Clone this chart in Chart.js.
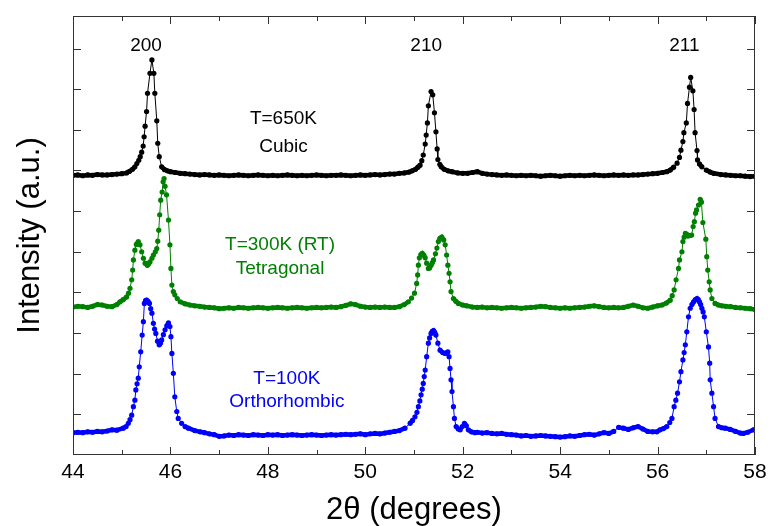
<!DOCTYPE html>
<html>
<head>
<meta charset="utf-8">
<script src="https://cdn.jsdelivr.net/npm/chart.js@4/dist/chart.umd.min.js"></script>
<style>
  html, body { margin: 0; padding: 0; background: #fff; overflow: hidden; }
  canvas { display: block; }
</style>
</head>
<body>
<canvas id="xrd" width="771" height="526"></canvas>
<script>
// Данные: [2theta, интенсивность со сдвигом]
// T=650K, кубическая фаза
const cubic = [
  [44.0,6.88],[44.1,6.89],[44.2,6.87],[44.3,6.89],[44.4,6.88],[44.5,6.90],[44.6,6.89],[44.7,6.89],[44.8,6.90],[44.9,6.91],[45.0,6.92],[45.1,6.94],
  [45.16,6.98],[45.22,7.03],[45.27,7.09],[45.31,7.17],[45.35,7.25],[45.38,7.34],[45.41,7.45],[45.44,7.60],[45.46,7.83],[45.48,8.09],[45.51,8.45],
  [45.53,8.90],[45.58,9.39],[45.62,9.72],[45.66,9.39],[45.68,8.90],[45.72,8.22],[45.74,7.67],[45.77,7.34],[45.82,7.09],[45.88,7.02],[45.94,6.99],
  [46.0,6.97],[46.1,6.95],[46.2,6.93],
  [46.3,6.92],[46.4,6.91],[46.5,6.90],[46.6,6.89],[46.7,6.90],[46.8,6.89],[46.9,6.88],[47.0,6.89],[47.1,6.88],[47.2,6.87],[47.3,6.88],[47.4,6.89],
  [47.5,6.88],[47.6,6.87],[47.7,6.88],[47.8,6.89],[47.9,6.88],[48.0,6.87],[48.1,6.88],[48.2,6.87],[48.3,6.88],[48.4,6.89],[48.5,6.88],[48.6,6.87],
  [48.7,6.88],[48.8,6.87],[48.9,6.88],[49.0,6.89],[49.1,6.88],[49.2,6.87],[49.3,6.88],[49.4,6.88],[49.5,6.89],[49.6,6.88],[49.7,6.87],[49.8,6.88],
  [49.9,6.89],[50.0,6.88],[50.1,6.89],[50.2,6.90],[50.3,6.89],[50.4,6.90],[50.5,6.91],[50.6,6.91],[50.7,6.93],[50.8,6.94],
  [50.9,6.96],[50.96,6.99],[51.03,7.03],[51.08,7.08],[51.125,7.13],[51.16,7.24],[51.19,7.38],[51.23,7.65],[51.25,7.87],[51.275,8.17],[51.295,8.59],
  [51.35,8.94],[51.385,8.86],[51.42,8.42],[51.45,7.95],[51.475,7.53],[51.49,7.27],[51.53,7.15],[51.56,7.09],[51.62,7.03],[51.70,6.99],[51.78,6.97],
  [51.9,6.94],[52.0,6.93],[52.1,6.93],[52.2,6.95],[52.3,6.97],[52.4,6.93],[52.5,6.91],[52.6,6.90],[52.7,6.89],[52.8,6.88],[52.9,6.89],[53.0,6.88],
  [53.1,6.87],[53.2,6.88],[53.3,6.87],[53.4,6.88],[53.5,6.87],[53.6,6.86],[53.7,6.87],[53.8,6.88],[53.9,6.87],[54.0,6.86],[54.1,6.87],[54.2,6.88],
  [54.3,6.87],[54.4,6.88],[54.5,6.87],[54.6,6.88],[54.7,6.89],[54.8,6.88],[54.9,6.87],[55.0,6.88],[55.1,6.89],[55.2,6.88],[55.3,6.89],[55.4,6.88],
  [55.5,6.89],[55.6,6.89],[55.7,6.90],[55.8,6.91],[55.9,6.92],[56.0,6.93],[56.1,6.95],
  [56.19,6.97],[56.26,7.01],[56.33,7.08],[56.40,7.18],[56.45,7.32],[56.48,7.50],[56.52,7.71],[56.54,7.93],[56.59,8.17],[56.615,8.65],[56.655,9.05],
  [56.68,9.29],[56.725,8.96],[56.75,8.50],[56.77,7.93],[56.81,7.49],[56.82,7.26],[56.86,7.16],[56.91,7.09],[57.0,7.01],[57.08,6.96],[57.15,6.93],
  [57.3,6.90],[57.4,6.89],[57.5,6.88],[57.6,6.87],[57.7,6.87],[57.8,6.86],[57.9,6.85],[58.0,6.86]
]

// T=300K (RT), тетрагональная фаза
const tetragonal = [
  [44.0,3.64],[44.1,3.66],[44.2,3.65],[44.3,3.63],[44.4,3.66],[44.5,3.70],[44.6,3.69],[44.7,3.66],[44.8,3.65],[44.9,3.70],
  [44.965,3.77],[45.03,3.82],[45.10,3.89],[45.14,3.98],[45.17,4.10],[45.205,4.31],[45.225,4.55],[45.24,4.80],[45.27,5.04],[45.30,5.18],[45.34,5.25],
  [45.375,5.17],[45.41,5.00],[45.445,4.84],[45.48,4.72],[45.525,4.67],[45.55,4.70],[45.58,4.75],[45.62,4.84],[45.65,4.92],[45.69,5.00],[45.72,5.08],
  [45.74,5.26],[45.76,5.53],[45.78,5.91],[45.80,6.27],[45.83,6.47],[45.85,6.72],[45.87,6.80],[45.89,6.61],[45.92,6.40],[45.96,5.78],[45.99,5.17],
  [46.01,4.59],[46.03,4.18],[46.06,4.02],[46.09,3.94],[46.14,3.85],[46.20,3.77],[46.3,3.72],[46.4,3.69],
  [46.5,3.67],[46.6,3.66],[46.7,3.64],[46.8,3.63],[46.9,3.62],[47.0,3.60],[47.1,3.61],[47.2,3.62],[47.3,3.61],[47.4,3.63],[47.5,3.62],[47.6,3.61],
  [47.7,3.62],[47.8,3.63],[47.9,3.62],[48.0,3.61],[48.1,3.62],[48.2,3.63],[48.3,3.62],[48.4,3.61],[48.5,3.62],[48.6,3.63],[48.7,3.62],[48.8,3.61],
  [48.9,3.62],[49.0,3.63],[49.1,3.62],[49.2,3.63],[49.3,3.64],[49.4,3.63],[49.5,3.65],[49.6,3.68],[49.7,3.72],[49.8,3.70],[49.9,3.66],[50.0,3.64],
  [50.1,3.63],[50.2,3.64],[50.3,3.63],[50.4,3.64],[50.5,3.63],[50.6,3.63],[50.7,3.65],[50.8,3.70],
  [50.885,3.77],[50.95,3.86],[51.01,3.98],[51.055,4.22],[51.075,4.43],[51.09,4.67],[51.11,4.85],[51.14,4.93],[51.17,4.96],[51.20,4.92],[51.23,4.85],
  [51.26,4.72],[51.295,4.59],[51.32,4.60],[51.35,4.67],[51.375,4.73],[51.40,4.80],[51.44,4.95],[51.47,5.09],[51.50,5.25],[51.53,5.33],[51.57,5.36],
  [51.61,5.29],[51.64,5.17],[51.67,4.92],[51.695,4.67],[51.72,4.47],[51.74,4.26],[51.76,4.02],[51.81,3.85],[51.86,3.78],[51.91,3.73],[52.0,3.69],
  [52.08,3.67],[52.2,3.64],[52.3,3.63],[52.4,3.64],[52.5,3.62],[52.6,3.63],[52.7,3.62],[52.8,3.61],[52.9,3.62],[53.0,3.63],[53.1,3.62],[53.2,3.61],
  [53.3,3.62],[53.4,3.63],[53.5,3.64],[53.6,3.66],[53.7,3.65],[53.8,3.63],[53.9,3.62],[54.0,3.61],[54.1,3.62],[54.2,3.61],[54.3,3.62],[54.4,3.63],
  [54.5,3.64],[54.6,3.66],[54.7,3.67],[54.8,3.65],[54.9,3.63],[55.0,3.62],[55.1,3.63],[55.2,3.62],[55.3,3.63],[55.4,3.66],[55.5,3.69],[55.6,3.66],
  [55.7,3.62],[55.8,3.61],[55.9,3.64],[56.0,3.67],
  [56.09,3.69],[56.18,3.74],[56.26,3.81],[56.30,3.92],[56.34,4.06],[56.38,4.31],[56.43,4.59],[56.45,4.80],[56.50,5.00],[56.52,5.25],[56.545,5.36],
  [56.57,5.45],[56.60,5.43],[56.63,5.39],[56.665,5.40],[56.70,5.41],[56.73,5.62],[56.755,5.74],[56.78,5.95],[56.80,6.03],[56.84,6.15],[56.875,6.29],
  [56.90,6.22],[56.93,5.72],[56.99,5.31],[57.01,4.88],[57.03,4.55],[57.06,4.26],[57.08,4.06],[57.115,3.85],[57.18,3.73],[57.25,3.69],[57.32,3.67],
  [57.4,3.66],[57.5,3.65],[57.6,3.63],[57.7,3.62],[57.8,3.61],[57.9,3.60],[58.0,3.58]
]

// T=100K, ромбическая фаза
const orthorhombic = [
  [44.0,0.55],[44.1,0.56],[44.2,0.55],[44.3,0.57],[44.4,0.56],[44.5,0.58],[44.6,0.57],[44.7,0.59],[44.8,0.62],[44.9,0.61],
  [45.03,0.66],[45.09,0.70],[45.135,0.78],[45.17,0.87],[45.205,0.98],[45.24,1.19],[45.27,1.35],[45.29,1.60],[45.315,1.75],[45.34,1.89],[45.36,2.17],
  [45.39,2.54],[45.42,2.95],[45.445,3.28],[45.465,3.73],[45.49,3.80],[45.51,3.81],[45.54,3.78],[45.57,3.73],[45.595,3.60],[45.62,3.49],[45.65,3.24],
  [45.675,3.10],[45.70,2.99],[45.735,2.80],[45.77,2.71],[45.795,2.75],[45.82,2.83],[45.855,2.96],[45.89,3.08],[45.925,3.18],[45.96,3.25],[45.99,3.16],
  [46.01,2.91],[46.03,2.50],[46.06,2.01],[46.09,1.43],[46.13,1.07],[46.16,0.90],[46.23,0.78],[46.30,0.70],[46.37,0.66],[46.5,0.60],[46.61,0.57],
  [46.7,0.55],[46.8,0.52],[46.9,0.50],[47.0,0.46],[47.1,0.47],[47.2,0.49],[47.3,0.48],[47.4,0.50],[47.5,0.49],[47.6,0.48],[47.7,0.50],[47.8,0.49],
  [47.9,0.48],[48.0,0.50],[48.1,0.49],[48.2,0.50],[48.3,0.48],[48.4,0.49],[48.5,0.50],[48.6,0.49],[48.7,0.48],[48.8,0.49],[48.9,0.50],[49.0,0.49],
  [49.1,0.48],[49.2,0.49],[49.3,0.50],[49.4,0.49],[49.5,0.50],[49.6,0.51],[49.7,0.50],[49.8,0.51],[49.9,0.52],[50.0,0.50],[50.1,0.52],[50.2,0.53],
  [50.3,0.52],[50.4,0.54],[50.5,0.56],[50.6,0.58],[50.7,0.60],
  [50.815,0.66],[50.92,0.78],[50.97,0.85],[51.02,0.94],[51.06,1.05],[51.09,1.19],[51.12,1.33],[51.145,1.48],[51.17,1.62],[51.19,1.76],[51.21,1.93],
  [51.23,2.09],[51.26,2.42],[51.295,2.75],[51.32,2.88],[51.35,2.99],[51.375,3.04],[51.40,3.06],[51.425,3.02],[51.45,2.95],[51.49,2.75],[51.535,2.58],
  [51.59,2.52],[51.64,2.50],[51.695,2.54],[51.72,2.42],[51.74,2.13],[51.76,1.85],[51.78,1.56],[51.81,1.19],[51.83,0.90],[51.865,0.70],[51.91,0.64],
  [51.95,0.62],[51.99,0.70],[52.035,0.78],[52.075,0.72],[52.115,0.62],[52.18,0.57],[52.25,0.55],
  [52.3,0.56],[52.4,0.54],[52.5,0.55],[52.6,0.53],[52.7,0.52],[52.8,0.53],[52.9,0.51],[53.0,0.50],[53.1,0.49],[53.2,0.47],[53.3,0.48],[53.4,0.46],
  [53.5,0.47],[53.6,0.48],[53.7,0.47],[53.8,0.46],[53.9,0.45],[54.0,0.44],[54.1,0.45],[54.2,0.47],[54.3,0.46],[54.4,0.48],[54.5,0.50],[54.6,0.51],
  [54.7,0.49],[54.8,0.52],[54.9,0.55],[55.0,0.53],[55.1,0.58],[55.2,0.68],[55.3,0.66],[55.4,0.63],[55.5,0.67],[55.6,0.70],[55.7,0.64],[55.8,0.58],
  [55.9,0.57],
  [55.985,0.57],[56.05,0.62],[56.12,0.65],[56.19,0.70],[56.25,0.80],[56.295,0.90],[56.34,1.19],[56.375,1.35],[56.41,1.52],[56.45,1.80],[56.48,2.05],
  [56.52,2.34],[56.545,2.52],[56.57,2.71],[56.60,3.03],[56.635,3.40],[56.67,3.61],[56.705,3.70],[56.74,3.77],[56.775,3.82],[56.81,3.85],[56.835,3.82],
  [56.86,3.77],[56.885,3.70],[56.91,3.61],[56.935,3.52],[56.96,3.40],[57.00,3.03],[57.045,2.66],[57.07,2.26],[57.08,1.85],[57.115,1.52],[57.15,1.19],
  [57.18,0.90],[57.25,0.70],[57.32,0.67],[57.39,0.66],[57.49,0.63],[57.6,0.58],[57.7,0.54],[57.76,0.53],[57.85,0.56],[57.97,0.62],[58.0,0.62]
]

// Подписи осей и рефлексов
const xTitle = "2\u03b8 (degrees)"
const yTitle = "Intensity (a.u.)"
const xTicks = [44, 46, 48, 50, 52, 54, 56, 58]
const yTicks = [1, 2, 3, 4, 5, 6, 7, 8, 9, 10]
const peakLabels = ["200", "210", "211"]
const peakPos = [45.5, 51.25, 56.55]
const peakLabelY = 10.07
// подписи серий: текст, x, y, цвет
const seriesLabels = [
  ["T=650K", 48.32, 8.27, "#000000"],
  ["Cubic", 48.32, 7.58, "#000000"],
  ["T=300K (RT)", 48.25, 5.17, "#008000"],
  ["Tetragonal", 48.25, 4.58, "#008000"],
  ["T=100K", 48.39, 1.87, "#0000ff"],
  ["Orthorhombic", 48.39, 1.30, "#0000ff"]
]

const FONT = "'Liberation Sans', Arial, sans-serif"

function makeSet(points, color) {
  return {
    data: points.map(p => ({x: p[0], y: p[1]})),
    borderColor: color,
    backgroundColor: color,
    pointBackgroundColor: color,
    pointBorderWidth: 0,
    pointRadius: 2.6,
    borderWidth: 1,
    tension: 0,
    // пологие участки — толстая полоса (на оригинале там точки слиты), крутые — тонкая линия
    segment: {
      borderWidth: ctx => Math.abs(ctx.p1.y - ctx.p0.y) < 3 ? 4.5 : 1
    }
  }
}

// рамка, внутренние засечки и все подписи
const decorPlugin = {
  id: 'decor',
  afterDraw(chart) {
    const {ctx, chartArea: a, scales: {x, y}} = chart
    ctx.save()
    ctx.strokeStyle = '#333333'
    ctx.lineWidth = 1
    ctx.strokeRect(a.left + 0.5, a.top + 0.5, a.right - a.left - 1, a.bottom - a.top - 1)

    ctx.beginPath()
    for (let v = 44; v <= 58; v++) {
      const px = Math.round(x.getPixelForValue(v)) + 0.5
      const len = v % 2 === 0 ? 8 : 5
      ctx.moveTo(px, a.bottom); ctx.lineTo(px, a.bottom - len)
      ctx.moveTo(px, a.top); ctx.lineTo(px, a.top + len)
    }
    yTicks.forEach(v => {
      const py = Math.round(y.getPixelForValue(v)) + 0.5
      ctx.moveTo(a.left, py); ctx.lineTo(a.left + 8, py)
      ctx.moveTo(a.right, py); ctx.lineTo(a.right - 8, py)
    })
    ctx.stroke()

    ctx.textAlign = 'center'
    ctx.textBaseline = 'middle'
    ctx.fillStyle = '#000'
    ctx.font = '19px ' + FONT
    peakLabels.forEach((t, i) => {
      ctx.fillText(t, x.getPixelForValue(peakPos[i]), y.getPixelForValue(peakLabelY))
    })
    seriesLabels.forEach(l => {
      ctx.fillStyle = l[3]
      ctx.fillText(l[0], x.getPixelForValue(l[1]), y.getPixelForValue(l[2]))
    })

    ctx.fillStyle = '#000'
    ctx.font = '31px ' + FONT
    ctx.fillText(xTitle, (a.left + a.right) / 2, 510)
    ctx.translate(30, (a.top + a.bottom) / 2)
    ctx.rotate(-Math.PI / 2)
    ctx.fillText(yTitle, 0, 0)
    ctx.restore()
  }
}

let chart = new Chart(document.getElementById('xrd').getContext('2d'), {
  type: 'line',
  data: {
    datasets: [
      makeSet(cubic, '#000000'),
      makeSet(tetragonal, '#008000'),
      makeSet(orthorhombic, '#0000ff')
    ]
  },
  options: {
    responsive: false,
    animation: false,
    devicePixelRatio: 1,
    layout: {padding: {top: 16, right: 16, left: 0, bottom: 0}},
    plugins: {legend: {display: false}, tooltip: {enabled: false}},
    scales: {
      x: {
        type: 'linear', min: 44, max: 58,
        grid: {display: false}, border: {display: false},
        afterBuildTicks: s => { s.ticks = xTicks.map(v => ({value: v})) },
        ticks: {color: '#000', font: {family: FONT, size: 21}, padding: -3, maxRotation: 0, autoSkip: false},
        afterFit: s => { s.height = 71 }
      },
      y: {
        type: 'linear', min: 0, max: 10.8,
        grid: {display: false}, border: {display: false},
        ticks: {display: false},
        afterFit: s => { s.width = 73 }
      }
    }
  },
  plugins: [decorPlugin]
})
</script>
</body>
</html>
